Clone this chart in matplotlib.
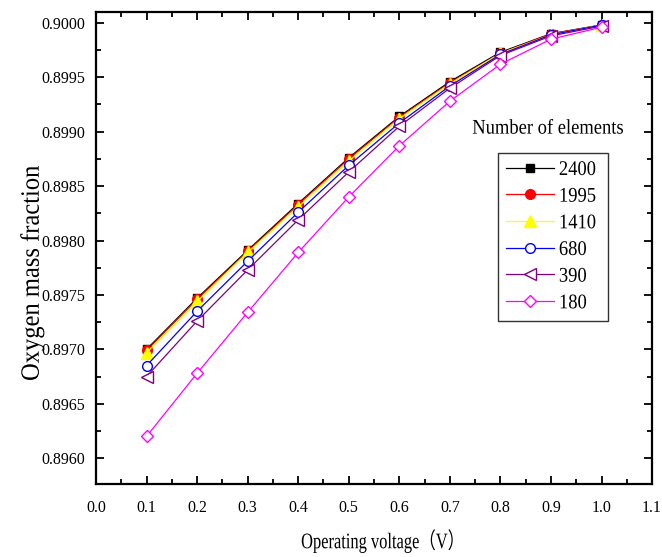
import matplotlib
matplotlib.use("Agg")
import matplotlib.pyplot as plt
import matplotlib.ticker as ticker
from matplotlib.patheffects import AbstractPathEffect
from matplotlib.transforms import Affine2D

plt.rcParams['font.family'] = ['Liberation Serif', 'Noto Sans CJK SC', 'DejaVu Sans']

voltage = [0.1, 0.2, 0.3, 0.4, 0.5, 0.6, 0.7, 0.8, 0.9, 1.0]
n2400 = [0.89700, 0.89747, 0.89791, 0.89834, 0.89876, 0.89914, 0.89946, 0.89973, 0.89990, 0.89998]
n1995 = [0.89699, 0.89746, 0.89790, 0.89833, 0.89875, 0.89913, 0.89945, 0.89972, 0.89990, 0.89998]
n1410 = [0.89697, 0.89744, 0.89789, 0.89831, 0.89873, 0.89912, 0.89944, 0.89972, 0.89989, 0.89998]
n680 = [0.89685, 0.89735, 0.89781, 0.89826, 0.89869, 0.89908, 0.89942, 0.89971, 0.89989, 0.89998]
n390 = [0.89675, 0.89726, 0.89773, 0.89819, 0.89863, 0.89905, 0.89940, 0.89970, 0.89988, 0.89997]
n180 = [0.89620, 0.89678, 0.89734, 0.89789, 0.89840, 0.89887, 0.89928, 0.89962, 0.89985, 0.89996]

labels = ["2400", "1995", "1410", "680", "390", "180"]


class Squeeze(AbstractPathEffect):
    # narrows the glyphs along the text direction (the original uses a condensed font)
    def __init__(self, sx, anchor='center'):
        super().__init__()
        self.sx = sx
        self.anchor = anchor

    def draw_path(self, renderer, gc, tpath, affine, rgbFace=None):
        ext = tpath.get_extents()
        cx = ext.x0 if self.anchor == 'left' else 0.5 * (ext.x0 + ext.x1)
        t = Affine2D().translate(-cx, 0).scale(self.sx, 1).translate(cx, 0) + affine
        renderer.draw_path(gc, tpath, t, rgbFace)


def main():
    fig = plt.figure(figsize=(6.62, 5.57), dpi=100)
    ax = fig.add_axes([0.145, 0.1305, 0.840, 0.848])

    series = [n2400, n1995, n1410, n680, n390, n180]
    colors = ['black', 'red', '#FFFF00', 'blue', '#800080', '#FF00FF']
    markers = ['s', 'o', '^', 'o', '<', 'D']
    sizes = [6, 7, 8, 7, 8.5, 6.5]
    fills = [True, True, True, False, False, False]

    for i in range(len(series)):
        ax.plot(voltage, series[i], color=colors[i], marker=markers[i],
                markersize=sizes[i], linewidth=0.9,
                markerfacecolor=colors[i] if fills[i] else 'white',
                markeredgecolor=colors[i], markeredgewidth=1.0,
                label=labels[i])

    ax.set_xlim(0.0, 1.1)
    ax.set_ylim(0.89576, 0.90010)
    ax.xaxis.set_major_locator(ticker.MultipleLocator(0.1))
    ax.xaxis.set_minor_locator(ticker.MultipleLocator(0.05))
    ax.yaxis.set_major_locator(ticker.MultipleLocator(0.0005))
    ax.yaxis.set_minor_locator(ticker.MultipleLocator(0.00025))
    ax.xaxis.set_major_formatter(ticker.FormatStrFormatter('%.1f'))
    ax.yaxis.set_major_formatter(ticker.FormatStrFormatter('%.4f'))

    ax.tick_params(which='both', direction='in', top=True, right=True,
                   width=1.3, labelsize=11.5)
    ax.tick_params(which='major', length=6)
    ax.tick_params(which='minor', length=3.5)
    ax.tick_params(axis='x', which='major', pad=11)
    ax.tick_params(axis='y', which='major', pad=8)
    for sp in ax.spines.values():
        sp.set_linewidth(1.6)

    xl = ax.set_xlabel("Operating voltage（V）", fontsize=16)
    ax.xaxis.set_label_coords(0.519, -0.095)
    xl.set_path_effects([Squeeze(0.74)])
    yl = ax.set_ylabel("Oxygen mass fraction", fontsize=19)
    ax.yaxis.set_label_coords(-0.094, 0.447)
    yl.set_path_effects([Squeeze(0.93)])

    title = ax.text(0.8135, 0.752, "Number of elements", transform=ax.transAxes,
                    ha='center', va='center', fontsize=15)
    title.set_path_effects([Squeeze(0.89)])
    leg = ax.legend(loc='upper left', bbox_to_anchor=(0.7236, 0.7012),
                    borderaxespad=0, fontsize=15, frameon=True, fancybox=False,
                    edgecolor='black', handlelength=2.3, handletextpad=0.25,
                    labelspacing=0.34, borderpad=0.35)
    leg.get_frame().set_linewidth(1.0)
    for t in leg.get_texts():
        t.set_path_effects([Squeeze(0.89, anchor='left')])

    fig.savefig("out.png", dpi=100)


if __name__ == '__main__':
    main()
